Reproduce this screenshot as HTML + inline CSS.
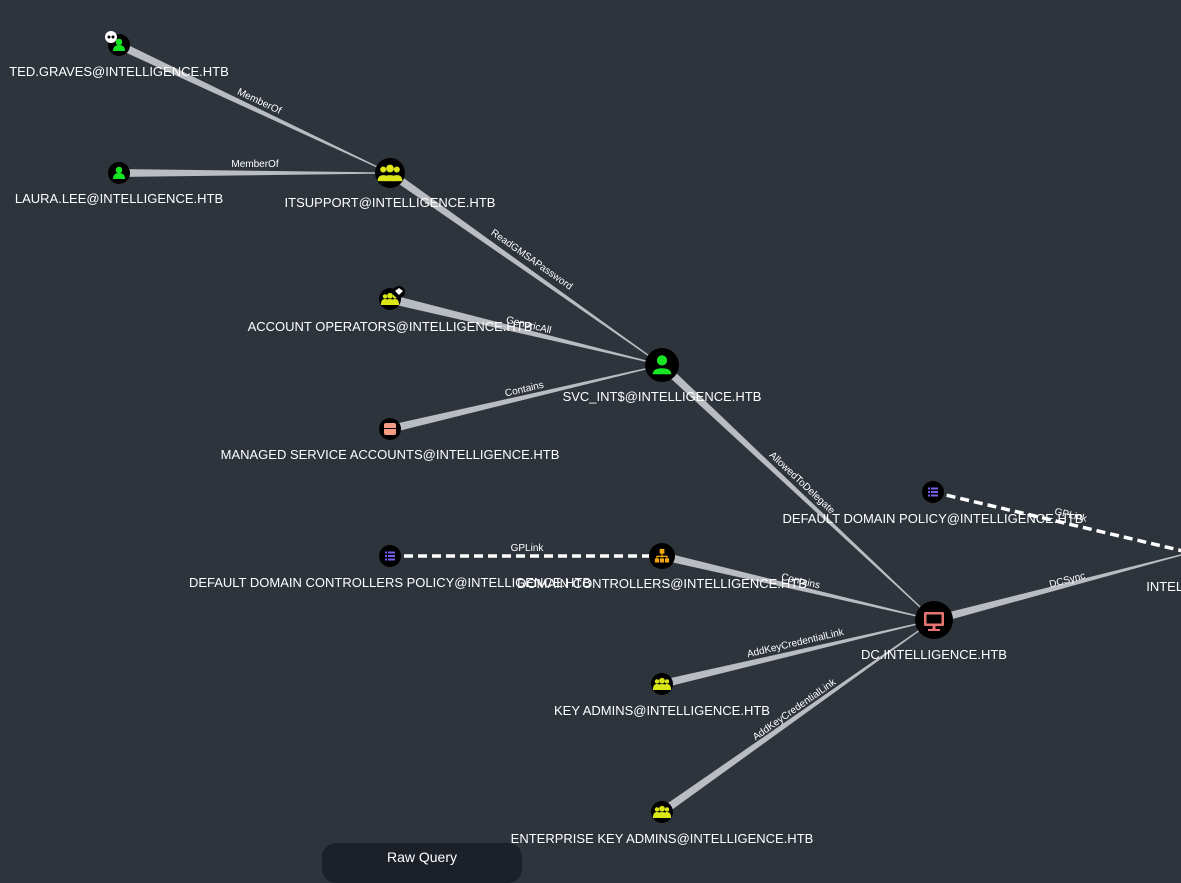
<!DOCTYPE html>
<html><head><meta charset="utf-8"><style>
html,body{margin:0;padding:0;background:#2e343c;width:1181px;height:863px;overflow:hidden;font-family:"Liberation Sans",sans-serif}
svg{position:absolute;left:0;top:0}
.lbl{fill:#fff;font-size:13px;text-anchor:middle;font-family:"Liberation Sans",sans-serif}
.el{fill:#fff;font-size:10px;text-anchor:middle;font-family:"Liberation Sans",sans-serif}
#rq{position:absolute;left:322px;top:843px;width:200px;height:40px;border-radius:14px;background:#1b2029;color:#fff;font-size:14px;text-align:center;line-height:28px}
</style></head><body>
<svg id="s" width="1181" height="863" xmlns="http://www.w3.org/2000/svg"></svg>
<div id="rq">Raw Query</div>
<script>
const s=document.getElementById('s');let h='';
function taper(x1,y1,x2,y2,w1,w2,lab,lx,ly){
 const dx=x2-x1,dy=y2-y1,L=Math.hypot(dx,dy),nx=-dy/L,ny=dx/L;
 h+=`<polygon points="${x1+nx*w1/2},${y1+ny*w1/2} ${x2+nx*w2/2},${y2+ny*w2/2} ${x2-nx*w2/2},${y2-ny*w2/2} ${x1-nx*w1/2},${y1-ny*w1/2}" fill="#b9bcc0"/>`;
 if(lab){let a=Math.atan2(dy,dx)*180/Math.PI;if(a>90)a-=180;if(a<-90)a+=180;
 h+=`<text class="el" x="${lx}" y="${ly}" transform="rotate(${a} ${lx} ${ly})">${lab}</text>`;}
}
function dash(x1,y1,x2,y2,lab,lx,ly){
 h+=`<line x1="${x1}" y1="${y1}" x2="${x2}" y2="${y2}" stroke="#fff" stroke-width="3.5" stroke-dasharray="9,5"/>`;
 let a=Math.atan2(y2-y1,x2-x1)*180/Math.PI;
 h+=`<text class="el" x="${lx}" y="${ly}" transform="rotate(${a} ${lx} ${ly})">${lab}</text>`;
}
taper(119,45,390,173,8,1,'MemberOf',258,104);
taper(119,173,390,173,8,1,'MemberOf',255,167);
taper(390,173,662,365,8,1,'ReadGMSAPassword',530,262);
taper(390,299,662,365,9,1,'GenericAll',528,328);
taper(390,429,662,365,8,1,'Contains',525,392);
taper(662,365,934,620,8,1,'AllowedToDelegate',800,485);
taper(662,556,934,620,8,1,'Contains',800,584);
taper(662,684,934,620,8,1,'AddKeyCredentialLink',796,646);
taper(662,812,934,620,8,1,'AddKeyCredentialLink',796,712);
taper(934,620,1200,550,8,1,'DCSync',1068,583);
dash(390,556,662,556,'GPLink',527,551);
dash(933,492,1200,555,'GPLink',1070,518);
function node(x,y,r,c,type){
 h+=`<circle cx="${x}" cy="${y}" r="${r}" fill="#000"/>`;
 const k=r/11;
 if(type=='user'){h+=`<circle cx="${x}" cy="${y-3*k}" r="${3.3*k}" fill="${c}"/><path d="M${x-6*k},${y+6*k} q0,-6 ${6*k},-6 q${6*k},0 ${6*k},6 z" fill="${c}"/>`;}
 else if(type=='group'){for(const [dx,s2] of [[-5,.85],[5,.85],[0,1.1]]){h+=`<circle cx="${x+dx*k}" cy="${y-3*k*s2}" r="${2.6*k*s2}" fill="${c}"/><path d="M${x+(dx-4.8*s2)*k},${y+6*k} q0,-6 ${4.8*s2*k},-6 q${4.8*s2*k},0 ${4.8*s2*k},6 z" fill="${c}"/>`;}}
 else if(type=='gpo'){for(let i=-1;i<=1;i++){h+=`<rect x="${x-5*k}" y="${y+i*3.5*k-1*k}" width="${2*k}" height="${2*k}" fill="${c}"/><rect x="${x-2*k}" y="${y+i*3.5*k-1*k}" width="${7*k}" height="${2*k}" fill="${c}"/>`;}}
 else if(type=='ou'){h+=`<rect x="${x-2*k}" y="${y-6*k}" width="${4*k}" height="${4*k}" fill="${c}"/><rect x="${x-6*k}" y="${y+2*k}" width="${3.5*k}" height="${3.5*k}" fill="${c}"/><rect x="${x-1.75*k}" y="${y+2*k}" width="${3.5*k}" height="${3.5*k}" fill="${c}"/><rect x="${x+2.5*k}" y="${y+2*k}" width="${3.5*k}" height="${3.5*k}" fill="${c}"/><path d="M${x},${y-2*k}v4M${x-4.3*k},${y+2*k}v-2h${8.6*k}v2" stroke="${c}" fill="none" stroke-width="${k}"/>`;}
 else if(type=='ctr'){h+=`<rect x="${x-6*k}" y="${y-6*k}" width="${12*k}" height="${12*k}" rx="${2*k}" fill="${c}"/><rect x="${x-6*k}" y="${y-1*k}" width="${12*k}" height="${1*k}" fill="#000"/>`;}
 else if(type=='pc'){h+=`<rect x="${x-10}" y="${y-8}" width="20" height="14" rx="1.5" fill="${c}"/><rect x="${x-7.5}" y="${y-5.5}" width="15" height="9" fill="#000"/><rect x="${x-1.5}" y="${y+6}" width="3" height="3" fill="${c}"/><rect x="${x-6}" y="${y+9}" width="12" height="2" fill="${c}"/>`;}
}
node(119,45,11,'#17e625','user');
h+=`<circle cx="111" cy="37" r="6" fill="#fff"/><circle cx="109" cy="37" r="1.5" fill="#000"/><circle cx="113" cy="37" r="1.5" fill="#000"/>`;
node(119,173,11,'#17e625','user');
node(390,173,15,'#dbe617','group');
node(390,299,11,'#dbe617','group');
h+=`<circle cx="399" cy="292" r="6" fill="#000"/><path d="M395,291 l4,-3 l4,3 l-4,4z" fill="#fff"/>`;
node(390,429,11,'#f59d84','ctr');
node(662,365,17,'#17e625','user');
node(933,492,11,'#7460eb','gpo');
node(390,556,11,'#7460eb','gpo');
node(662,556,13,'#f6a60d','ou');
node(934,620,19,'#e87572','pc');
node(662,684,11,'#dbe617','group');
node(662,812,11,'#dbe617','group');
const L=[['TED.GRAVES@INTELLIGENCE.HTB',119,76],['LAURA.LEE@INTELLIGENCE.HTB',119,203],['ITSUPPORT@INTELLIGENCE.HTB',390,207],['ACCOUNT OPERATORS@INTELLIGENCE.HTB',390,331],['MANAGED SERVICE ACCOUNTS@INTELLIGENCE.HTB',390,459],['SVC_INT$@INTELLIGENCE.HTB',662,401],['DEFAULT DOMAIN POLICY@INTELLIGENCE.HTB',933,523],['DEFAULT DOMAIN CONTROLLERS POLICY@INTELLIGENCE.HTB',390,587],['DOMAIN CONTROLLERS@INTELLIGENCE.HTB',662,588],['DC.INTELLIGENCE.HTB',934,659],['KEY ADMINS@INTELLIGENCE.HTB',662,715],['ENTERPRISE KEY ADMINS@INTELLIGENCE.HTB',662,843],['INTELLIGENCE.HTB',1208,591]];
for(const [t,x,y] of L)h+=`<text class="lbl" x="${x}" y="${y}">${t}</text>`;
s.innerHTML=h;
</script>
</body></html>
